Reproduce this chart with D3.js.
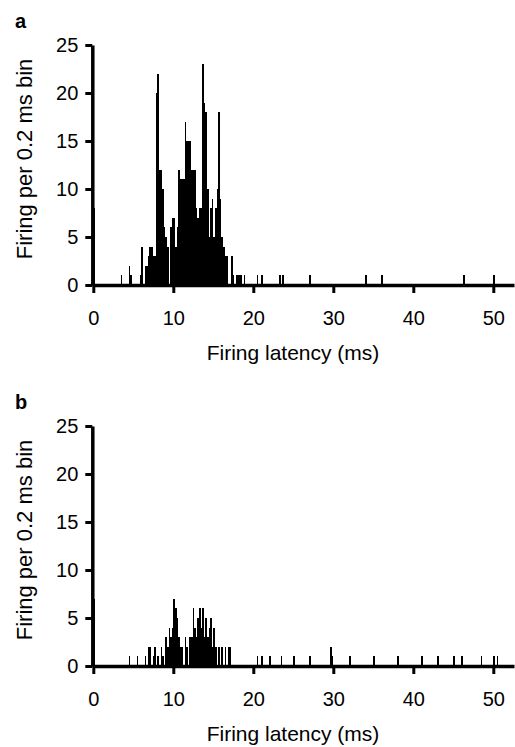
<!DOCTYPE html>
<html>
<head>
<meta charset="utf-8">
<script src="https://cdn.jsdelivr.net/npm/d3@7"></script>
<style>
  html, body { margin: 0; padding: 0; background: #fff; }
  svg { display: block; font-family: Arial, "Liberation Sans", sans-serif; }
</style>
</head>
<body>
<div id="chart"></div>
<script>
// bin start (ms) and count per 0.2 ms bin, panel a
const latencyA = [0, 3.4, 4.4, 4.6, 5.8, 6.0, 6.4, 6.6, 6.8, 7.0, 7.2, 7.4, 7.6, 7.8, 8.0, 8.2, 8.4, 8.6, 8.8, 9.0,
  9.2, 9.6, 9.8, 10.0, 10.2, 10.4, 10.6, 10.8, 11.0, 11.2, 11.4, 11.6, 11.8, 12.0, 12.2, 12.4, 12.6, 12.8, 13.0, 13.2,
  13.4, 13.6, 13.8, 14.0, 14.2, 14.4, 14.6, 14.8, 15.0, 15.2, 15.4, 15.6, 15.8, 16.0, 16.2, 16.4, 16.6, 17.2, 17.4,
  17.8, 18.0, 18.2, 18.4, 18.8, 20.4, 21.0, 23.2, 23.6, 27.0, 34.0, 36.0, 46.2, 50.0];
const countA = [8, 1, 2, 1, 1, 4, 2, 2, 3, 4, 4, 3, 3, 20, 22, 12, 12, 10, 6, 5,
  4, 6, 7, 7, 4, 6, 12, 11, 11, 11, 17, 15, 15, 15, 12, 12, 12, 8, 7, 8,
  8, 23, 19, 18, 10, 5, 8, 9, 5, 8, 10, 18, 9, 5, 4, 3, 3, 3, 1,
  1, 1, 1, 1, 1, 1, 1, 1, 1, 1, 1, 1, 1, 1];

// panel b
const latencyB = [0, 4.4, 5.4, 6.4, 6.8, 7.0, 7.4, 7.6, 8.0, 8.4, 8.6, 9.0, 9.2, 9.4, 9.6, 9.8, 10.0, 10.2, 10.4,
  10.6, 10.8, 11.0, 11.4, 11.6, 12.0, 12.2, 12.4, 12.6, 12.8, 13.0, 13.2, 13.4, 13.6, 13.8, 14.0, 14.2, 14.4,
  14.6, 14.8, 15.0, 15.2, 15.6, 16.0, 16.4, 16.8, 17.0, 20.4, 21.0, 22.0, 23.4, 25.0, 27.0, 29.6, 29.8, 32.0,
  35.0, 38.0, 41.0, 43.0, 45.0, 46.0, 48.4, 50.0, 50.4];
const countB = [7, 1, 1, 1, 2, 2, 1, 2, 1, 2, 1, 3, 2, 4, 3, 4, 7, 6, 5,
  3, 2, 2, 3, 2, 3, 3, 6, 4, 3, 5, 6, 4, 6, 3, 5, 3, 4,
  5, 2, 4, 2, 2, 2, 2, 2, 2, 1, 1, 1, 1, 1, 1, 2, 1, 1,
  1, 1, 1, 1, 1, 1, 1, 1, 1];

const panels = [
  { label: "a", latency: latencyA, count: countA, top: 45 },
  { label: "b", latency: latencyB, count: countB, top: 426 }
];

const xTicks = [0, 10, 20, 30, 40, 50];
const yTicks = [0, 5, 10, 15, 20, 25];
const binWidth = 0.2;

const width = 515, height = 747;
const plotH = 240;

const svg = d3.select("#chart").append("svg")
  .attr("width", width)
  .attr("height", height);

const x = d3.scaleLinear().domain([0, 50]).range([93.3, 493.3]);
const xMax = x.invert(514);

panels.forEach(p => {
  const y = d3.scaleLinear().domain([0, 25]).range([p.top + plotH, p.top]);
  const g = svg.append("g");

  const bins = p.latency.map((t, i) => ({ t, n: p.count[i] }));

  g.selectAll("rect.bar")
    .data(bins)
    .join("rect")
    .attr("class", "bar")
    .attr("x", d => x(d.t))
    .attr("y", d => y(d.n))
    .attr("width", d => x(d.t + binWidth) - x(d.t))
    .attr("height", d => y(0) - y(d.n))
    .attr("fill", "#000")
    .attr("shape-rendering", "crispEdges");

  const xa = d3.scaleLinear().domain([0, xMax]).range([x(0), x(xMax)]);

  const gx = g.append("g")
    .attr("transform", `translate(0,${y(0)})`)
    .call(d3.axisBottom(xa).tickValues(xTicks).tickSize(8).tickSizeOuter(0).tickPadding(18));

  const gy = g.append("g")
    .attr("transform", `translate(${x(0) - 1},0)`)
    .call(d3.axisLeft(y).tickValues(yTicks).tickSize(7).tickSizeOuter(0).tickPadding(7));

  [gx, gy].forEach(a => {
    a.select(".domain").attr("stroke", "#000").attr("stroke-width", 3.5);
    a.selectAll(".tick line").attr("stroke", "#000").attr("stroke-width", 3);
    a.selectAll(".tick text").attr("fill", "#000").style("font-size", "20px")
      .style("font-family", "Arial, 'Liberation Sans', sans-serif");
  });

  g.append("text")
    .attr("x", 293)
    .attr("y", y(0) + 75)
    .attr("text-anchor", "middle")
    .style("font-size", "21px")
    .text("Firing latency (ms)");

  g.append("text")
    .attr("transform", `translate(32,${p.top + 114}) rotate(-90)`)
    .attr("text-anchor", "middle")
    .style("font-size", "22px")
    .text("Firing per 0.2 ms bin");

  g.append("text")
    .attr("x", 15)
    .attr("y", p.top - 17)
    .style("font-size", "20px")
    .style("font-weight", "bold")
    .text(p.label);
});
</script>
</body>
</html>
